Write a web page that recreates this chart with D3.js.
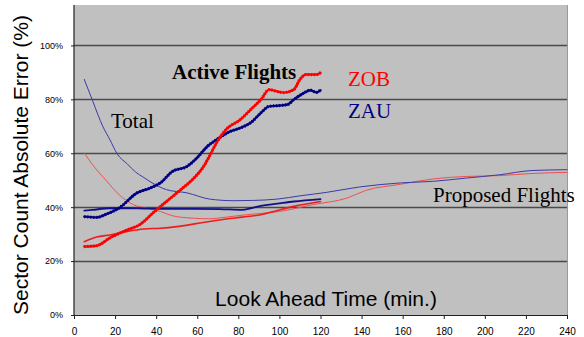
<!DOCTYPE html>
<html>
<head>
<meta charset="utf-8">
<script src="https://cdn.jsdelivr.net/npm/d3@7"></script>
<style>
  html, body { margin: 0; padding: 0; background: #ffffff; }
  svg { display: block; }
</style>
</head>
<body>
<svg id="chart" width="584" height="337"></svg>
<script>
// Look-ahead time (minutes) and sector count absolute error (%) per series.
const totalZauMin = [5, 9, 14, 17.5, 21, 26, 30, 34, 37, 45, 55, 66, 78, 87, 99, 110, 123, 139, 159, 175, 191, 207, 223, 240];
const totalZauPct = [87.4, 79.6, 70, 65, 59.8, 56, 53, 51, 49.5, 46.5, 45.3, 43, 42.4, 42.5, 43, 44.2, 45.5, 47.5, 49, 49.6, 50.8, 52, 53.6, 53.9];

const totalZobMin = [5, 9, 16, 22, 29, 35, 42, 48, 58, 66, 74, 84, 100, 116, 133, 142, 159, 175, 191, 207, 223, 240];
const totalZobPct = [60.1, 55.8, 49.6, 44.6, 40.9, 39.7, 38.4, 36.8, 35.9, 35.7, 36.3, 37.2, 38.4, 40.9, 43.4, 46.2, 48.5, 50.5, 51.4, 51.7, 52.5, 52.9];

const proposedZauMin = [5, 9, 17.5, 26, 34, 42, 58, 71, 82, 86, 91, 99, 107, 120];
const proposedZauPct = [38.7, 39, 39.6, 39.6, 39.5, 39.4, 39.4, 39.3, 39, 39.6, 40.5, 41.3, 42.1, 43];

const proposedZobMin = [5, 11, 17.5, 26, 34, 42, 50, 58, 66, 74, 82, 91, 99, 107, 120];
const proposedZobPct = [27.2, 28.9, 29.7, 31, 31.9, 32.2, 32.8, 33.7, 34.7, 35.6, 36.3, 37.2, 38.8, 40.3, 42.1];

const activeZauMin = [5, 11, 16, 22, 30.5, 37, 42, 48, 55, 60, 65, 69.5, 76, 81, 86, 91, 95, 100, 104, 107, 112, 115, 118, 120];
const activeZauPct = [36.5, 36.2, 37.5, 39.7, 45.2, 47.1, 49, 53.3, 55.1, 58.4, 62.6, 65.1, 68.1, 69.4, 71.3, 75, 77.4, 77.7, 78.1, 79.9, 82.4, 83.4, 82.6, 83.4];

const activeZobMin = [5, 11, 17.5, 26, 32, 38.5, 45, 52, 58, 63, 66, 69.5, 74, 81, 86, 91, 95, 99, 102, 107, 110, 113, 118, 120];
const activeZobPct = [25.4, 25.7, 28.6, 31.6, 33.5, 37.9, 42.1, 46.5, 50.5, 55, 59, 64, 68.8, 72.5, 76.2, 79.9, 83.6, 82.9, 82.5, 83.6, 87.4, 89.2, 89.2, 89.9];

const xTicks = [0, 20, 40, 60, 80, 100, 120, 140, 160, 180, 200, 220, 240];
const yTicks = [0, 20, 40, 60, 80, 100];

const svg = d3.select("#chart");
const plotLeft = 74, plotRight = 567, plotTop = 5, plotBottom = 315;

const x = d3.scaleLinear().domain([0, 240]).range([plotLeft, plotRight]);
const y = d3.scaleLinear().domain([0, 115]).range([plotBottom, plotTop]);

// plot area
svg.append("rect")
  .attr("x", plotLeft).attr("y", plotTop)
  .attr("width", plotRight - plotLeft).attr("height", plotBottom - plotTop)
  .attr("fill", "#c0c0c0");

// right border of plot area
svg.append("line")
  .attr("x1", plotRight + 0.5).attr("x2", plotRight + 0.5)
  .attr("y1", plotTop).attr("y2", plotBottom)
  .attr("stroke", "#9a9a9a").attr("stroke-width", 1);

// horizontal gridlines
svg.append("g").selectAll("line")
  .data(yTicks.filter(d => d > 0))
  .join("line")
  .attr("x1", plotLeft).attr("x2", plotRight)
  .attr("y1", d => Math.round(y(d)) + 0.5).attr("y2", d => Math.round(y(d)) + 0.5)
  .attr("stroke", "#4a4a4a").attr("stroke-width", 1.3);

// axes
const xAxis = d3.axisBottom(x).tickValues(xTicks).tickSize(4).tickSizeOuter(0).tickPadding(9);
const gx = svg.append("g")
  .attr("transform", `translate(0,${plotBottom})`)
  .call(xAxis);
gx.select(".domain").attr("stroke", "#202020").attr("stroke-width", 1.2);
gx.selectAll(".tick line").attr("stroke", "#202020");
gx.selectAll(".tick text")
  .attr("font-family", "Liberation Sans, Arial, sans-serif")
  .attr("font-size", 10).attr("fill", "#000");

const yAxis = d3.axisLeft(y).tickValues(yTicks).tickSize(3).tickSizeOuter(0).tickPadding(8)
  .tickFormat(d => d + "%");
const gy = svg.append("g")
  .attr("transform", `translate(${plotLeft},0)`)
  .call(yAxis);
gy.select(".domain").attr("stroke", "#202020").attr("stroke-width", 1.2)
  .attr("d", `M0,${plotTop}V${plotBottom}`);
gy.selectAll(".tick line").attr("stroke", "#202020");
gy.selectAll(".tick text")
  .attr("font-family", "Liberation Sans, Arial, sans-serif")
  .attr("font-size", 9).attr("fill", "#000");

// series lines
const line = d3.line().x(d => x(d[0])).y(d => y(d[1])).curve(d3.curveMonotoneX);
const pairs = (m, v) => m.map((t, i) => [t, v[i]]);

const series = [
  { data: pairs(totalZobMin, totalZobPct), color: "#f05050", width: 1 },
  { data: pairs(totalZauMin, totalZauPct), color: "#3a3aa8", width: 1 },
  { data: pairs(proposedZobMin, proposedZobPct), color: "#ee1c1c", width: 1.6 },
  { data: pairs(proposedZauMin, proposedZauPct), color: "#10108a", width: 1.8 },
  { data: pairs(activeZauMin, activeZauPct), color: "#000080", width: 2.4, dotted: true },
  { data: pairs(activeZobMin, activeZobPct), color: "#ff0000", width: 2.4, dotted: true }
];

const gLines = svg.append("g");
series.forEach(s => {
  gLines.append("path")
    .attr("d", line(s.data))
    .attr("fill", "none")
    .attr("stroke", s.color)
    .attr("stroke-width", s.width)
    .attr("stroke-linejoin", "round")
    .attr("stroke-linecap", "round");
  if (s.dotted) {
    // marker-studded look of the active-flight traces
    gLines.append("path")
      .attr("d", line(s.data))
      .attr("fill", "none")
      .attr("stroke", s.color)
      .attr("stroke-width", 3.2)
      .attr("stroke-dasharray", "1.2 1.8")
      .attr("stroke-linecap", "butt");
  }
});

// annotations
const serif = "Liberation Serif, Times New Roman, serif";
const notes = [
  { text: "Active Flights", x: 172, y: 79, color: "#000", weight: "bold" },
  { text: "Total", x: 111, y: 128, color: "#000", weight: "normal" },
  { text: "ZOB", x: 348, y: 86, color: "#ff0000", weight: "normal" },
  { text: "ZAU", x: 348, y: 118, color: "#000080", weight: "normal" },
  { text: "Proposed Flights", x: 433, y: 202, color: "#000", weight: "normal" }
];
svg.append("g").selectAll("text")
  .data(notes)
  .join("text")
  .attr("x", d => d.x).attr("y", d => d.y)
  .attr("font-family", serif)
  .attr("font-size", 21)
  .attr("font-weight", d => d.weight)
  .attr("fill", d => d.color)
  .text(d => d.text);

// axis titles
svg.append("text")
  .attr("x", 326).attr("y", 306)
  .attr("text-anchor", "middle")
  .attr("font-family", "Liberation Sans, Arial, sans-serif")
  .attr("font-size", 21)
  .attr("fill", "#000")
  .text("Look Ahead Time (min.)");

svg.append("text")
  .attr("transform", "translate(28,165) rotate(-90)")
  .attr("text-anchor", "middle")
  .attr("font-family", "Liberation Sans, Arial, sans-serif")
  .attr("font-size", 21)
  .attr("fill", "#000")
  .text("Sector Count Absolute Error (%)");
</script>
</body>
</html>
